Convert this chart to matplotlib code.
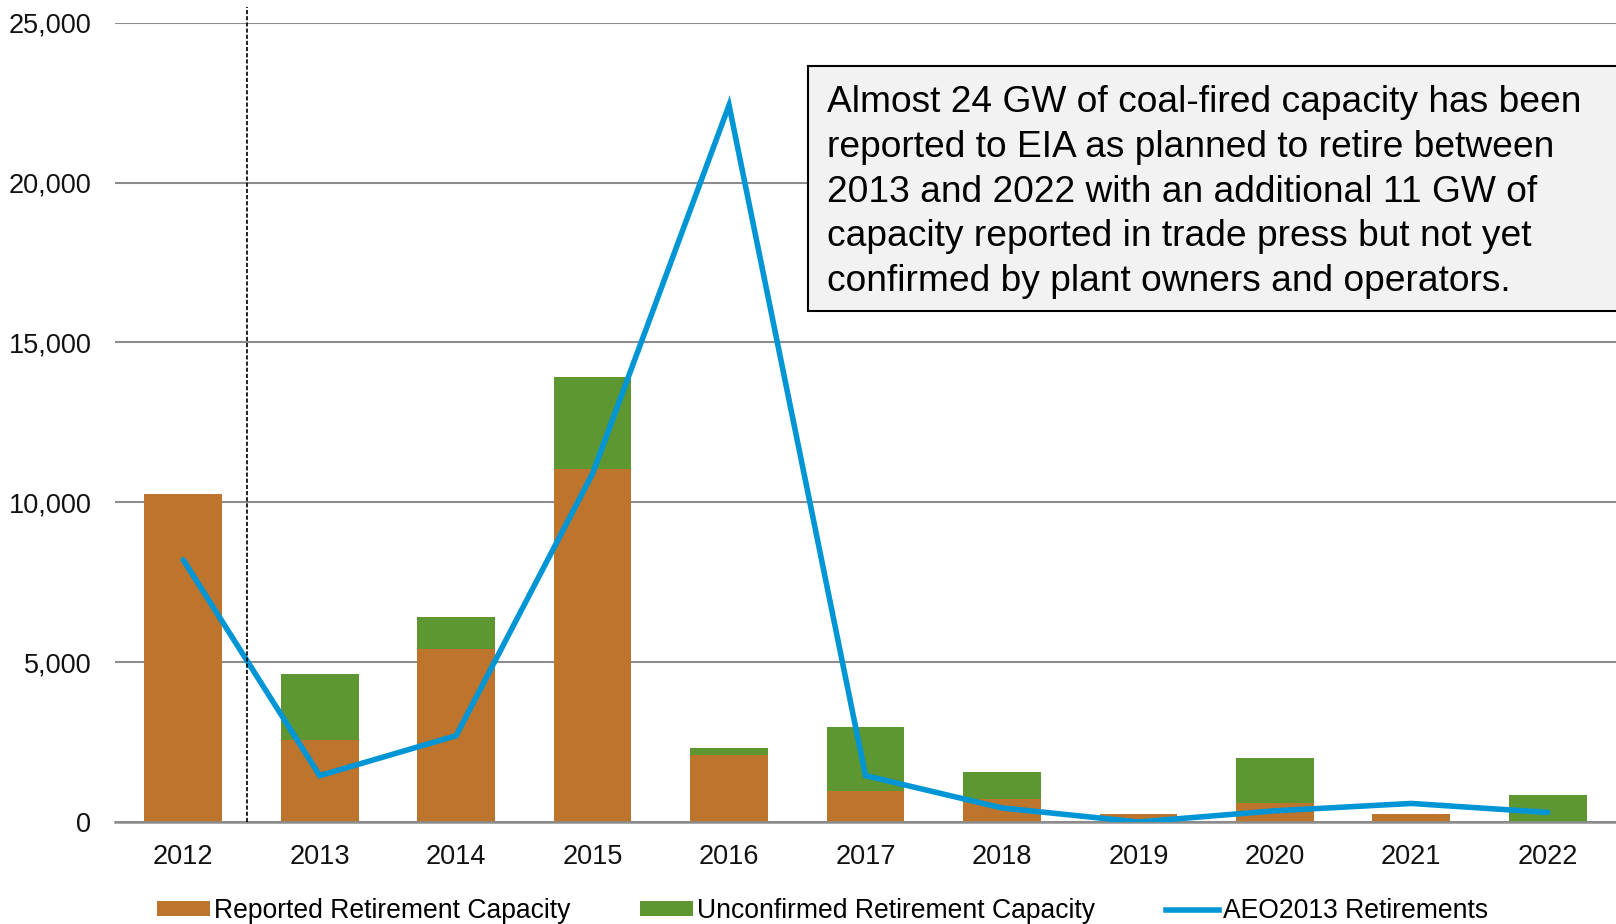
import matplotlib
matplotlib.use("Agg")
import matplotlib.pyplot as plt
from matplotlib.lines import Line2D
from matplotlib.patches import Patch
import numpy as np

plt.rcParams['font.family'] = ['Liberation Sans', 'DejaVu Sans']

years = ["2012", "2013", "2014", "2015", "2016", "2017", "2018", "2019", "2020", "2021", "2022"]
reported = [10250, 2560, 5400, 11050, 2090, 960, 720, 260, 580, 240, 0]
unconfirmed = [0, 2070, 1010, 2870, 220, 2020, 850, 0, 1410, 0, 830]
aeo2013 = [8200, 1450, 2700, 10900, 22420, 1450, 440, 0, 350, 580, 300]
yticks = [0, 5000, 10000, 15000, 20000, 25000]

orange = "#BD742C"
green = "#5E9732"
blue = "#0096D6"

fig = plt.figure(figsize=(16.16, 9.24), dpi=100)
ax = fig.add_axes([115/1616, 1 - 822/924, 1 - 115/1616, (822 - 22.7)/924])

x = np.arange(len(years))
w = 0.57
ax.bar(x, reported, w, color=orange, linewidth=0, zorder=2)
ax.bar(x, unconfirmed, w, bottom=reported, color=green, linewidth=0, zorder=2)
ax.plot(x, aeo2013, color=blue, lw=4.0, zorder=3, solid_capstyle='round', solid_joinstyle='miter')

ax.set_xlim(-0.5, len(years) - 0.5)
ax.set_ylim(0, 25000)
ax.set_yticks(yticks)
ax.set_yticklabels([f"{v:,}" for v in yticks])
ax.set_xticks(x)
ax.set_xticklabels(years)
ax.tick_params(axis='y', length=0, pad=17, labelsize=19.5, labelcolor="#111111")
ax.tick_params(axis='x', length=0, pad=16, labelsize=19.5, labelcolor="#111111")
ax.yaxis.grid(True, color="#8c8c8c", lw=1.5, zorder=0)
ax.set_axisbelow(True)
for s in ["left", "right", "top"]:
    ax.spines[s].set_visible(False)
ax.spines["bottom"].set_color("#8c8c8c")
ax.spines["bottom"].set_linewidth(1.8)

# dashed divider between historical and projected
ax.plot([0.47, 0.47], [0, 25500], color="black", lw=1.2, ls=(0, (2.5, 1.2)), clip_on=False, zorder=4)

# annotation box
txt = ("Almost 24 GW of coal-fired capacity has been\n"
       "reported to EIA as planned to retire between\n"
       "2013 and 2022 with an additional 11 GW of\n"
       "capacity reported in trade press but not yet\n"
       "confirmed by plant owners and operators.")
fig.patches.append(plt.Rectangle((808/1616, 1 - 311/924), (1616 - 808)/1616 + 0.01, (311 - 66)/924,
                                 transform=fig.transFigure, facecolor="#f2f2f2", edgecolor="black",
                                 lw=1.5, zorder=5))
fig.text(827/1616, 1 - 192/924, txt, fontsize=26.7, va="center", ha="left", linespacing=1.365,
         color="black", zorder=6)

handles = [Patch(facecolor=orange), Patch(facecolor=green), Line2D([0], [0], color=blue, lw=4.0)]
labels = ["Reported Retirement Capacity", "Unconfirmed Retirement Capacity", "AEO2013 Retirements"]
fig.legend(handles, labels, loc="center left", bbox_to_anchor=(157/1616, 1 - 911/924), ncol=3,
           frameon=False, prop={'size': 19.1},
           handlelength=2.0, handleheight=0.45, handletextpad=0.15, columnspacing=2.64, borderaxespad=0,
           borderpad=0)

fig.savefig("out.png", dpi=100)
